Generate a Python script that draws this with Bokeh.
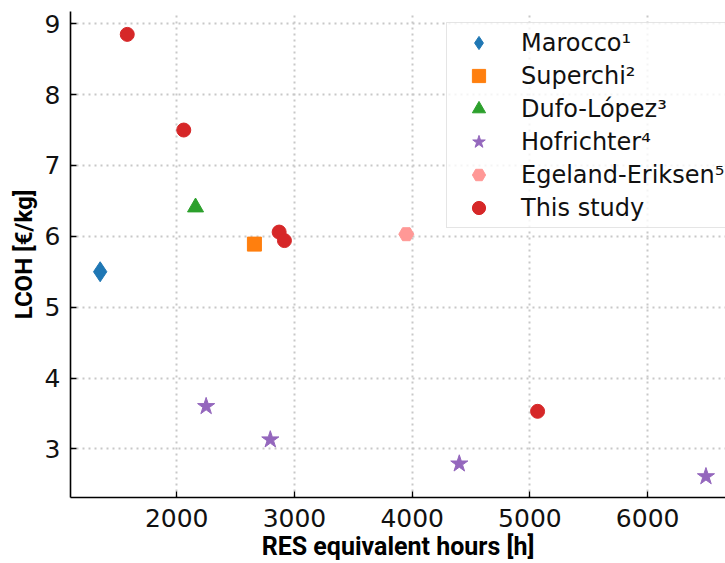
from bokeh.plotting import figure
from bokeh.models import FixedTicker, Range1d
from bokeh.embed import file_html
from bokeh.resources import INLINE

# ---- data ----
x_ticks = [2000, 3000, 4000, 5000, 6000]
y_ticks = [3, 4, 5, 6, 7, 8, 9]

marocco_x = [1350]
marocco_y = [5.50]
superchi_x = [2660]
superchi_y = [5.89]
dufo_x = [2160]
dufo_y = [6.41]
hofrichter_x = [2250, 2795, 4400, 6495]
hofrichter_y = [3.60, 3.13, 2.79, 2.61]
egeland_x = [3950]
egeland_y = [6.03]
study_x = [1580, 2060, 2870, 2915, 5065]
study_y = [8.85, 7.50, 6.06, 5.94, 3.53]

p = figure(width=725, height=563, output_backend="svg", toolbar_location=None,
           x_range=Range1d(1098, 6661), y_range=Range1d(2.314, 9.173),
           min_border_left=70, min_border_right=0, min_border_top=11, min_border_bottom=65)

p.outline_line_color = None
p.background_fill_color = "white"
p.border_fill_color = "white"

for ax, ticks in ((p.xaxis, x_ticks), (p.yaxis, y_ticks)):
    ax.ticker = FixedTicker(ticks=ticks)
    ax.major_tick_in = 6
    ax.major_tick_out = 0
    ax.minor_tick_in = 0
    ax.minor_tick_out = 0
    ax.axis_line_color = "black"
    ax.axis_line_width = 1.6
    ax.major_tick_line_color = "black"
    ax.major_tick_line_width = 1.3
    ax.major_label_text_font = "DejaVu Sans"
    ax.major_label_text_font_size = "25px"
    ax.major_label_text_color = "#111111"
    ax.axis_label_text_font = "Roboto"
    ax.axis_label_text_font_style = "bold"
    ax.axis_label_text_color = "black"

p.xaxis.axis_label = "RES equivalent hours [h]"
p.yaxis.axis_label = "LCOH [€/kg]"
p.xaxis.axis_label_text_font_size = "25px"
p.yaxis.axis_label_text_font_size = "24px"
p.xaxis.major_label_standoff = 11
p.xaxis.axis_label_standoff = 2
p.yaxis.major_label_standoff = 10
p.yaxis.axis_label_standoff = 4

for g in (p.xgrid, p.ygrid):
    g.grid_line_color = "#c8c8c8"
    g.grid_line_width = 2
    g.grid_line_dash = "2 4"

p.scatter(marocco_x, marocco_y, marker="diamond", size=20, color="#1f77b4", legend_label="Marocco¹")
p.scatter(superchi_x, superchi_y, marker="square", size=14, color="#ff7f0e", legend_label="Superchi²")
p.scatter(dufo_x, dufo_y, marker="triangle", size=16, color="#2ca02c", legend_label="Dufo-López³")
p.scatter(hofrichter_x, hofrichter_y, marker="star", size=18, color="#9467bd", legend_label="Hofrichter⁴")
p.scatter(egeland_x, egeland_y, marker="hex", size=15, color="#ff9896", legend_label="Egeland-Eriksen⁵")
p.scatter(study_x, study_y, marker="circle", size=14, color="#d62728", legend_label="This study")

lg = p.legend[0]
lg.location = (376, 269)
lg.margin = 0
lg.padding = 3
lg.spacing = 0
lg.glyph_width = 57
lg.glyph_height = 33
lg.label_height = 23
lg.label_width = 196
lg.label_standoff = 14
lg.label_text_font = "DejaVu Sans"
lg.label_text_font_size = "24px"
lg.label_text_color = "#111111"
lg.border_line_color = "#cccccc"
lg.border_line_width = 1
lg.background_fill_color = "white"
lg.background_fill_alpha = 0.8

open("out.html", "w").write(file_html(p, INLINE))
